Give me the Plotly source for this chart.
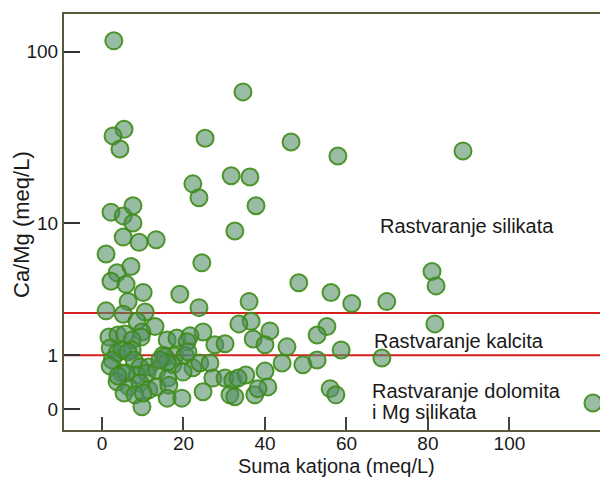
import numpy as np
import plotly.graph_objects as go

# Suma katjona (meq/L)
suma_katjona = [2.9, 34.6, 5.4, 2.7, 4.4, 25.3, 46.4, 57.9, 88.6, 31.7,
                36.3, 22.3, 23.8, 37.8, 2.2, 5.2, 7.6, 7.6, 32.6, 5.2,
                9.1, 13.3, 1.0, 3.7, 7.1, 2.2, 5.9, 24.5, 48.3, 56.2,
                10.1, 19.1, 6.4, 23.8, 36.1, 81.0, 82.0, 61.3, 69.9,
                1.0, 5.2, 10.6, 8.6, 36.6, 33.6, 13.0, 55.2, 24.8, 41.2,
                52.8, 81.7, 1.7, 3.9, 5.6, 9.8, 9.6, 7.4, 16.0, 18.4,
                21.6, 20.9, 27.7, 30.2, 37.1, 40.0, 45.4, 58.7, 2.0, 3.7,
                7.4, 4.9, 6.4, 15.0, 17.9, 20.4, 15.5, 2.5, 7.9, 68.7,
                52.8,
                2.0, 4.9, 9.3, 11.5, 8.6, 11.0, 13.5, 17.4, 22.3, 24.0,
                26.5, 19.9, 16.2, 27.2, 30.2, 32.1, 44.2, 49.3, 40.0, 35.3,
                33.4, 3.7, 6.6, 9.3, 11.5, 13.5, 16.4, 5.4, 8.1, 9.8,
                16.0, 19.6, 24.8, 31.4, 37.5, 40.7, 38.3, 32.6, 56.0, 57.4,
                120.5, 5.9, 3.9, 10.1, 16.0, 14.2, 21.1]

# Ca/Mg (meq/L)
ca_mg = [115, 59, 36, 33, 27.7, 32, 30.4, 25.2, 27, 19.3,
         19, 17.3, 14.3, 12.8, 11.7, 11.1, 12.8, 10.05, 8.96, 8.2,
         7.6, 7.9, 6.4, 4.8, 5.3, 4.2, 4.0, 5.6, 4.1, 3.5,
         3.5, 3.4, 3.0, 2.7, 3.0, 4.9, 3.9, 2.9, 3.0,
         2.55, 2.4, 2.5, 2.1, 2.1, 2.0, 1.9, 1.9, 1.7, 1.74,
         1.6, 2.0, 1.53, 1.6, 1.63, 1.7, 1.53, 1.44, 1.44, 1.5,
         1.57, 1.38, 1.29, 1.32, 1.47, 1.29, 1.23, 1.14, 1.2, 1.06,
         1.14, 1.14, 1.09, 1.0, 0.98, 1.0, 0.96, 0.88, 0.88, 0.93,
         0.88,
         0.74, 0.59, 0.72, 0.72, 0.55, 0.59, 0.65, 0.77, 0.70, 0.81,
         0.81, 0.61, 0.49, 0.49, 0.49, 0.45, 0.81, 0.77, 0.63, 0.55,
         0.49, 0.42, 0.33, 0.40, 0.28, 0.33, 0.36, 0.23, 0.20, 0.03,
         0.15, 0.15, 0.25, 0.20, 0.20, 0.33, 0.30, 0.17, 0.30, 0.20,
         0.08, 0.59, 0.53, 0.23, 0.83, 0.88, 1.09]

y_tick_values = [0, 1, 10, 100]
y_tick_labels = ["0", "1", "10", "100"]
x_tick_values = [0, 20, 40, 60, 80, 100]
boundary_lines = [1.0, 2.45]

region_labels = ["Rastvaranje silikata", "Rastvaranje kalcita",
                 "Rastvaranje dolomita", "i Mg silikata"]


def tr(v):
    return np.log10(1.0 + np.asarray(v, dtype=float))


FONT = "Liberation Sans, Arial, sans-serif"
AXIS_COLOR = "#5a573a"

fig = go.Figure()
fig.add_trace(go.Scatter(
    x=suma_katjona, y=tr(ca_mg), mode="markers",
    marker=dict(size=17, color="rgba(80,140,100,0.58)",
                line=dict(color="rgba(62,140,22,0.9)", width=2)),
    showlegend=False, hoverinfo="skip"))

for v in boundary_lines:
    fig.add_shape(type="line", xref="paper", x0=0, x1=1,
                  yref="y", y0=float(tr(v)), y1=float(tr(v)),
                  line=dict(color="#d62020", width=2), layer="below")

ann_pos = [(0.5772, 0.4904), (0.566, 0.214), (0.5625, 0.0938), (0.5625, 0.0433)]
for text, (ax, ay) in zip(region_labels, ann_pos):
    fig.add_annotation(text=text, xref="paper", yref="paper", x=ax, y=ay,
                       xanchor="left", yanchor="middle", showarrow=False,
                       font=dict(family=FONT, size=20, color="#1a1a1a"))

fig.add_annotation(text="Ca/Mg (meq/L)", xref="paper", yref="paper",
                   x=-0.0772, y=0.4928, textangle=-90, showarrow=False,
                   xanchor="center", yanchor="middle",
                   font=dict(family=FONT, size=22, color="#1a1a1a"))
fig.add_annotation(text="Suma katjona (meq/L)", xref="paper", yref="paper",
                   x=0.5, y=-0.0865, showarrow=False,
                   xanchor="center", yanchor="middle",
                   font=dict(family=FONT, size=20, color="#1a1a1a"))

fig.update_xaxes(range=[-9.33, 124.2], tickvals=x_tick_values,
                 ticks="inside", ticklen=13, tickwidth=1.5, tickcolor="#444",
                 showline=True, linecolor=AXIS_COLOR, linewidth=2, mirror=True,
                 showgrid=False, zeroline=False, ticklabelstandoff=-5,
                 tickfont=dict(family=FONT, size=19, color="#1a1a1a"))
fig.update_yaxes(range=[-0.118, 2.215], tickvals=list(tr(y_tick_values)),
                 ticktext=y_tick_labels,
                 ticks="inside", ticklen=16, tickwidth=1.5, tickcolor="#333",
                 showline=True, linecolor=AXIS_COLOR, linewidth=2,
                 showgrid=False, zeroline=False,
                 tickfont=dict(family=FONT, size=19, color="#1a1a1a"))

# page body adds an 8px offset, so the figure is 8px smaller on each axis
fig.update_layout(width=600, height=470,
                  margin=dict(l=56, r=0, t=6, b=48),
                  plot_bgcolor="white", paper_bgcolor="white")

fig.write_html("out.html")
